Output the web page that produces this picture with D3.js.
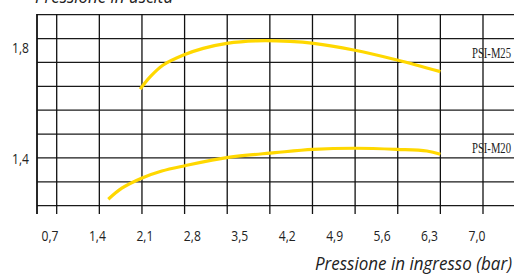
<!DOCTYPE html>
<html>
<head>
<meta charset="utf-8">
<script src="https://cdn.jsdelivr.net/npm/d3@7"></script>
<style>
  body { margin: 0; background: #fff; }
  svg { display: block; }
</style>
</head>
<body>
<div id="chart"></div>
<script>

// tick labels
var xTicks = [0.7, 1.4, 2.1, 2.8, 3.5, 4.2, 4.9, 5.6, 6.3, 7.0];
var yTicks = [1.4, 1.8];

// curves (inlet pressure bar -> outlet pressure)
var m25X = [2.03, 2.18, 2.37, 2.67, 2.96, 3.31, 3.75, 4.24, 4.59, 5.18, 5.82, 6.46];
var m25Y = [1.65, 1.695, 1.737, 1.773, 1.797, 1.815, 1.824, 1.822, 1.815, 1.791, 1.755, 1.713];

var m20X = [1.56, 1.76, 2.05, 2.35, 2.69, 3.33, 4.02, 4.58, 5.2, 5.82, 6.26, 6.46];
var m20Y = [1.253, 1.293, 1.329, 1.355, 1.374, 1.404, 1.421, 1.433, 1.437, 1.433, 1.427, 1.415];

var seriesNames = ["PSI-M25", "PSI-M20"];

var svgWidth = 514;
var svgHeight = 277;

var svg = d3.select("#chart")
  .append("svg")
  .attr("width", svgWidth)
  .attr("height", svgHeight);

var xScale = d3.scaleLinear().domain([0.7, 7.0]).range([50, 477]);
var yScale = d3.scaleLinear().domain([1.4, 1.8]).range([158.5, 47.5]);

// the printed grid does not line up with the labels, so it has its own index scales
var gridX = d3.scaleLinear().domain([0, 10]).range([56.7, 483]);
var gridY = d3.scaleLinear().domain([0, 8]).range([14.7, 205.7]);

var plotLeft = 37, plotTop = 14, plotBottom = 214;

var grid = svg.append("g");

grid.selectAll(".hline")
  .data(d3.range(9))
  .enter()
  .append("line")
  .attr("x1", plotLeft)
  .attr("x2", svgWidth)
  .attr("y1", d => gridY(d))
  .attr("y2", d => gridY(d))
  .attr("stroke", "#1a1a1a")
  .attr("stroke-width", 1.3);

grid.selectAll(".vline")
  .data(d3.range(11))
  .enter()
  .append("line")
  .attr("x1", d => gridX(d))
  .attr("x2", d => gridX(d))
  .attr("y1", plotTop)
  .attr("y2", plotBottom)
  .attr("stroke", "#111")
  .attr("stroke-width", 1.3);

// left axis line
svg.append("line")
  .attr("x1", plotLeft).attr("x2", plotLeft)
  .attr("y1", plotTop).attr("y2", plotBottom)
  .attr("stroke", "#111")
  .attr("stroke-width", 1.8);

var line = d3.line()
  .x(d => xScale(d[0]))
  .y(d => yScale(d[1]))
  .curve(d3.curveCatmullRom);

[d3.zip(m25X, m25Y), d3.zip(m20X, m20Y)].forEach(function(pts) {
  svg.append("path")
    .datum(pts)
    .attr("d", line)
    .attr("fill", "none")
    .attr("stroke", "#ffd800")
    .attr("stroke-width", 3.2);
});

// series labels
svg.selectAll(".slabel")
  .data(seriesNames)
  .enter()
  .append("text")
  .attr("x", 511)
  .attr("y", (d, i) => i == 0 ? 58 : 153)
  .attr("text-anchor", "end")
  .attr("font-family", "Liberation Serif, serif")
  .attr("font-size", "14px")
  .attr("textLength", 39)
  .attr("lengthAdjust", "spacingAndGlyphs")
  .attr("fill", "#222")
  .text(d => d);

// x tick labels
svg.selectAll(".xlabel")
  .data(xTicks)
  .enter()
  .append("text")
  .attr("x", d => xScale(d))
  .attr("y", 241)
  .attr("text-anchor", "middle")
  .attr("font-family", "Open Sans, sans-serif")
  .attr("font-size", "14px")
  .attr("textLength", 17)
  .attr("lengthAdjust", "spacingAndGlyphs")
  .attr("fill", "#222")
  .text(d => d3.format(".1f")(d).replace(".", ","));

// y tick labels
svg.selectAll(".ylabel")
  .data(yTicks)
  .enter()
  .append("text")
  .attr("x", 29)
  .attr("y", d => yScale(d))
  .attr("dy", "0.36em")
  .attr("text-anchor", "end")
  .attr("font-family", "Open Sans, sans-serif")
  .attr("font-size", "14px")
  .attr("textLength", 17)
  .attr("lengthAdjust", "spacingAndGlyphs")
  .attr("fill", "#222")
  .text(d => d3.format(".1f")(d).replace(".", ","));

svg.append("text")
  .attr("x", 35)
  .attr("y", 3)
  .attr("font-family", "Open Sans, sans-serif")
  .attr("font-style", "italic")
  .attr("font-size", "18px")
  .attr("textLength", 138)
  .attr("lengthAdjust", "spacingAndGlyphs")
  .attr("fill", "#222")
  .text("Pressione in uscita");

svg.append("text")
  .attr("x", 512)
  .attr("y", 270)
  .attr("text-anchor", "end")
  .attr("font-family", "Open Sans, sans-serif")
  .attr("font-style", "italic")
  .attr("font-size", "18px")
  .attr("textLength", 197)
  .attr("lengthAdjust", "spacingAndGlyphs")
  .attr("fill", "#222")
  .text("Pressione in ingresso (bar)");

</script>
</body>
</html>
